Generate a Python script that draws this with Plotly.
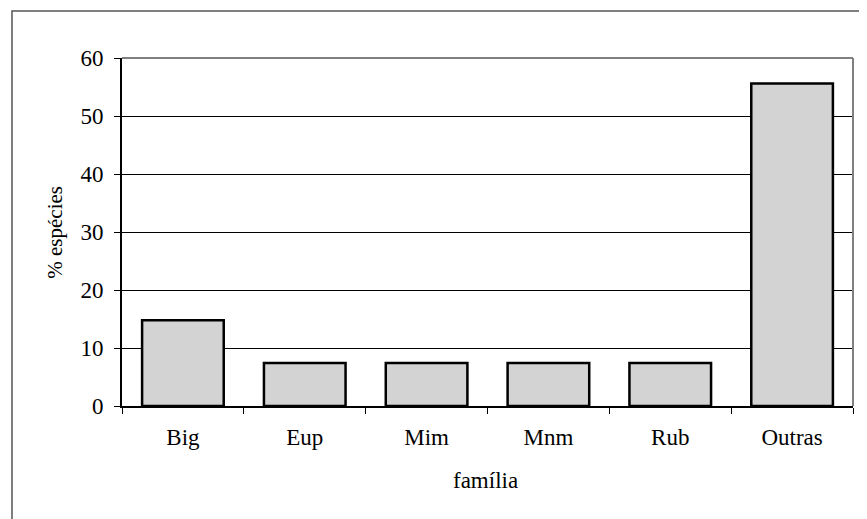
import plotly.graph_objects as go

categories = ["Big", "Eup", "Mim", "Mnm", "Rub", "Outras"]
values = [14.8, 7.4, 7.4, 7.4, 7.4, 55.6]
y_ticks = [0, 10, 20, 30, 40, 50, 60]

FONT = "Liberation Serif, Times New Roman, serif"

fig = go.Figure(go.Bar(
    x=categories, y=values,
    marker=dict(color="#d3d3d3", line=dict(color="black", width=2.5)),
))

fig.update_layout(
    width=859, height=511,
    margin=dict(l=114, r=14, t=50, b=113),
    paper_bgcolor="white", plot_bgcolor="white",
    bargap=0.33, showlegend=False,
    font=dict(family=FONT, size=23, color="black"),
    xaxis=dict(
        range=[-0.5, 5.5], showline=True, linecolor="black", linewidth=1.5,
        ticks="outside", tickson="boundaries", ticklen=6, tickcolor="black",
        showgrid=False, ticklabelstandoff=10,
    ),
    yaxis=dict(
        range=[0, 60], tickvals=y_ticks, showline=True, linecolor="black", linewidth=2,
        ticks="outside", ticklen=6, tickcolor="black",
        showgrid=True, gridcolor="black", gridwidth=1, zeroline=False,
        ticklabelstandoff=6,
    ),
    annotations=[
        dict(text="% espécies", textangle=-90, xref="paper", yref="paper",
             x=-0.092, y=0.5, showarrow=False, xanchor="center", yanchor="middle",
             font=dict(size=21)),
        dict(text="família", xref="paper", yref="paper",
             x=0.497, y=-0.215, showarrow=False, xanchor="center", yanchor="middle",
             font=dict(size=23)),
    ],
    shapes=[
        dict(type="line", xref="paper", yref="paper", x0=0, x1=1, y0=1, y1=1,
             line=dict(color="#808080", width=2)),
        dict(type="line", xref="paper", yref="paper", x0=1, x1=1, y0=0, y1=1,
             line=dict(color="#808080", width=2)),
        dict(type="rect", xref="paper", yref="paper", x0=-0.1505, x1=1.2,
             y0=-0.5, y1=1.135, line=dict(color="#555555", width=1.5),
             layer="below"),
    ],
)

fig.write_html("out.html")
